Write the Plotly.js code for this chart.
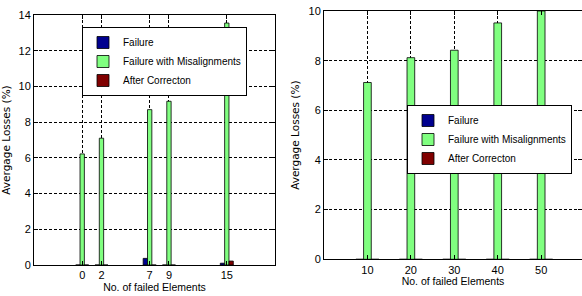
<!DOCTYPE html>
<html><head><meta charset="utf-8">
<script src="https://cdn.plot.ly/plotly-3.0.1.min.js"></script>
<style>html,body{margin:0;padding:0;background:#fff;}#chart{width:582px;height:296px;}</style>
</head><body><div id="chart"></div>
<script>
// Left chart
const leftX = [0, 2, 7, 9, 15];
const leftFailure = [0, 0, 0.37, 0, 0.1];
const leftMisalign = [6.22, 7.1, 8.7, 9.17, 13.55];
const leftCorrection = [0, 0, 0, 0, 0.22];
// Right chart
const rightX = [10, 20, 30, 40, 50];
const rightFailure = [0, 0, 0, 0, 0];
const rightMisalign = [7.12, 8.12, 8.42, 9.52, 10.0];
const rightCorrection = [0, 0, 0, 0, 0];
const seriesNames = ['Failure', 'Failure with Misalignments', 'After Correcton'];
const seriesColors = ['#00008F', '#80FF80', '#800000'];
const xTitle = 'No. of failed Elements';
const yTitle = 'Avergage Losses (%)';

const fam = 'Liberation Sans, Arial, sans-serif';
const tickFont = {family: fam, size: 11, color: '#000'};
const xTitleFont = {family: fam, size: 10.5, color: '#000'};
const yTitleFont = {family: 'DejaVu Sans, sans-serif', size: 10.5, color: '#000'};
const legFont = {family: fam, size: 10, color: '#000'};

function bars(x, ys, xa, ya, leg, w) {
  return ys.map((y, i) => ({
    type: 'bar', x: x, y: y, name: seriesNames[i], xaxis: xa, yaxis: ya, legend: leg,
    width: w, offset: (i - 1.5) * w,
    marker: {color: seriesColors[i], line: {color: '#000', width: 0.8}},
    showlegend: true, hoverinfo: 'skip'
  }));
}
const data = [
  ...bars(leftX, [leftFailure, leftMisalign, leftCorrection], 'x', 'y', 'legend', 0.45),
  ...bars(rightX, [rightFailure, rightMisalign, rightCorrection], 'x2', 'y2', 'legend2', 1.77)
];
const common = {
  showline: true, mirror: 'ticks', linecolor: '#000', linewidth: 1,
  ticks: 'inside', ticklen: 4, tickcolor: '#000',
  showgrid: true, gridcolor: '#000', gridwidth: 1, griddash: '3px,2px',
  zeroline: false, automargin: false, tickfont: tickFont
};
const layout = {
  width: 582, height: 296,
  margin: {l: 0, r: 0, t: 0, b: 0, autoexpand: false},
  paper_bgcolor: '#fff', plot_bgcolor: '#fff',
  barmode: 'overlay',
  font: tickFont,
  xaxis: Object.assign({}, common, {domain: [34/582, 275/582], range: [-5, 20], tickmode: 'array', tickvals: leftX, ticktext: leftX.map(String),
    title: {text: xTitle, font: xTitleFont, standoff: 3}, anchor: 'y'}),
  yaxis: Object.assign({}, common, {domain: [1-265/296, 1-15/296], range: [0, 14], tickvals: [0,2,4,6,8,10,12,14],
    title: {text: yTitle, font: yTitleFont, standoff: 6}, anchor: 'x'}),
  xaxis2: Object.assign({}, common, {domain: [324/582, 1], range: [0, 59.4], tickmode: 'array', tickvals: rightX, ticktext: rightX.map(String),
    title: {text: xTitle, font: xTitleFont, standoff: 3}, anchor: 'y2'}),
  yaxis2: Object.assign({}, common, {domain: [1-259.3/296, 1-11/296], range: [0, 10], tickvals: [0,2,4,6,8,10],
    title: {text: yTitle, font: yTitleFont, standoff: 6}, anchor: 'x2'}),
  legend: {x: 82/582, y: 1-27/296, xanchor: 'left', yanchor: 'top', bgcolor: '#fff', bordercolor: '#000', borderwidth: 1,
    font: legFont, tracegroupgap: 0, itemwidth: 30},
  legend2: {x: 407/582, y: 1-105/296, xanchor: 'left', yanchor: 'top', bgcolor: '#fff', bordercolor: '#000', borderwidth: 1,
    font: legFont, tracegroupgap: 0, itemwidth: 30}
};
Plotly.newPlot('chart', data, layout, {displayModeBar: false, staticPlot: true});
</script></body></html>
